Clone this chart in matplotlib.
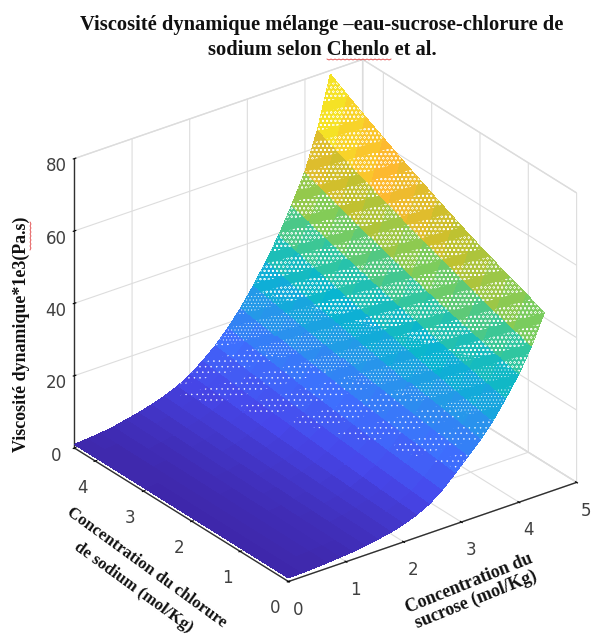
#!/usr/bin/env python3
"""Viscosite dynamique eau-sucrose-NaCl, surface 3D (Chenlo et al.)"""
import numpy as np
import matplotlib
matplotlib.use("Agg")
import matplotlib.pyplot as plt
from matplotlib.colors import LinearSegmentedColormap
from matplotlib.lines import Line2D
from mpl_toolkits.mplot3d.art3d import Poly3DCollection

plt.rcParams["hatch.color"] = "white"
plt.rcParams["hatch.linewidth"] = 0.3

# sucrose (mol/Kg), chlorure de sodium (mol/Kg)
sucrose = [0.0, 0.22, 0.44, 0.67, 0.89, 1.11, 1.33, 1.55, 1.78, 2.0, 2.22,
           2.44, 2.66, 2.89, 3.11, 3.33, 3.55, 3.77, 4.0, 4.22, 4.44]
sodium = [0.0, 0.37, 0.74, 1.11, 1.48, 1.85, 2.22, 2.59, 2.96, 3.33, 3.70, 4.07, 4.43]

# viscosite : une ligne par valeur de sucrose
viscosity = [
    [1.0, 1.0, 1.0, 1.0, 1.0, 1.0, 1.0, 1.0, 1.0, 1.0, 1.0, 1.0, 1.0],
    [1.1, 1.12, 1.13, 1.15, 1.17, 1.18, 1.2, 1.22, 1.23, 1.25, 1.27, 1.28, 1.3],
    [1.3, 1.32, 1.35, 1.37, 1.4, 1.42, 1.44, 1.47, 1.49, 1.52, 1.55, 1.57, 1.6],
    [1.5, 1.54, 1.59, 1.63, 1.68, 1.72, 1.77, 1.82, 1.87, 1.92, 1.98, 2.04, 2.1],
    [1.8, 1.87, 1.95, 2.03, 2.12, 2.2, 2.29, 2.38, 2.47, 2.57, 2.68, 2.79, 2.9],
    [2.1, 2.2, 2.3, 2.4, 2.5, 2.62, 2.75, 2.87, 3.0, 3.15, 3.3, 3.45, 3.6],
    [2.6, 2.73, 2.86, 3.0, 3.15, 3.3, 3.46, 3.63, 3.8, 4.0, 4.2, 4.4, 4.6],
    [3.2, 3.35, 3.5, 3.7, 3.9, 4.1, 4.3, 4.5, 4.7, 4.95, 5.2, 5.45, 5.7],
    [3.9, 4.1, 4.3, 4.55, 4.8, 5.05, 5.3, 5.6, 5.9, 6.2, 6.5, 6.85, 7.2],
    [4.9, 5.15, 5.4, 5.7, 6.0, 6.35, 6.7, 7.05, 7.4, 7.85, 8.3, 8.75, 9.2],
    [6.2, 6.55, 6.9, 7.3, 7.7, 8.15, 8.6, 9.05, 9.5, 10.05, 10.6, 11.2, 11.8],
    [8.0, 8.45, 8.9, 9.4, 9.9, 10.4, 10.9, 11.5, 12.1, 12.75, 13.4, 14.1, 14.8],
    [10.6, 11.1, 11.6, 12.15, 12.7, 13.35, 14.0, 14.65, 15.3, 16.1, 16.9, 17.7, 18.5],
    [14.0, 14.6, 15.2, 15.85, 16.5, 17.2, 17.9, 18.7, 19.5, 20.35, 21.2, 22.1, 23.0],
    [17.5, 18.2, 18.9, 19.65, 20.4, 21.25, 22.1, 23.05, 24.0, 24.95, 25.9, 26.95, 28.0],
    [21.0, 21.85, 22.7, 23.6, 24.5, 25.5, 26.5, 27.6, 28.7, 29.85, 31.0, 32.25, 33.5],
    [25.0, 26.0, 27.0, 28.1, 29.2, 30.3, 31.4, 32.7, 34.0, 35.35, 36.7, 38.1, 39.5],
    [30.0, 31.15, 32.3, 33.55, 34.8, 36.1, 37.4, 38.85, 40.3, 41.8, 43.3, 44.9, 46.5],
    [35.5, 36.85, 38.2, 39.6, 41.0, 42.5, 44.0, 45.65, 47.3, 49.05, 50.8, 52.65, 54.5],
    [42.0, 43.6, 45.2, 46.95, 48.7, 50.6, 52.5, 54.5, 56.5, 58.55, 60.6, 62.8, 65.0],
    [50.0, 51.95, 53.9, 56.0, 58.1, 60.45, 62.8, 65.3, 67.8, 70.5, 73.2, 76.1, 79.0],
]

x_ticks = [0, 1, 2, 3, 4, 5]
y_ticks = [0, 1, 2, 3, 4]
z_ticks = [0, 20, 40, 60, 80]

parula = LinearSegmentedColormap.from_list("parula", [
    "#3e26a8", "#4747eb", "#3e6ffe", "#2796eb", "#08b5d0",
    "#31c69f", "#80cc59", "#c8c02b", "#fdb92f", "#f5e325", "#f9fb15"])

SERIF = "Liberation Serif"
INK = "#111111"
MOIRE_PERIOD = 27    # ecart des bandes pleines, en pixels
MOIRE_SOLID = 10


def clip_poly(poly, key, lim, sign):
    out = []
    for a, b in zip(poly, poly[1:] + poly[:1]):
        fa, fb = sign * (key(a) - lim), sign * (key(b) - lim)
        if fa >= 0:
            out.append(a)
        if fa * fb < 0:
            out.append(a + fa / (fa - fb) * (b - a))
    return out


def moire(p):
    # hauteur a l'ecran le long de bandes montant vers la droite
    return 4.3 * p[0] + 43.3 * p[1] + 3.6 * p[2]


def moire_start(p):
    return p[2] + 2.0 * p[1]


def dotted_facets(X, Y, Z, lo, hi):
    polys = []
    for i in range(Z.shape[0] - 1):
        for j in range(Z.shape[1] - 1):
            c = [np.array(v) for v in ((X[i, j], Y[i, j], Z[i, j]),
                                       (X[i + 1, j], Y[i + 1, j], Z[i + 1, j]),
                                       (X[i + 1, j + 1], Y[i + 1, j + 1], Z[i + 1, j + 1]),
                                       (X[i, j + 1], Y[i, j + 1], Z[i, j + 1]))]
            for tri in ([c[0], c[1], c[2]], [c[0], c[2], c[3]]):
                tri = clip_poly(tri, moire_start, lo, 1)
                if len(tri) >= 3:
                    tri = clip_poly(tri, moire_start, hi, -1)
                if len(tri) < 3:
                    continue
                for k in range(0, 20):
                    lo_w = k * MOIRE_PERIOD + MOIRE_SOLID
                    hi_w = (k + 1) * MOIRE_PERIOD
                    piece = clip_poly(tri, moire, lo_w, 1)
                    if len(piece) >= 3:
                        piece = clip_poly(piece, moire, hi_w, -1)
                    if len(piece) >= 3:
                        polys.append([tuple(v) for v in piece])
    return polys


fig = plt.figure(figsize=(5.93, 6.35), dpi=100)
ax = fig.add_axes([24.6 / 593, 13.6 / 635, 586 / 593, 586 / 635],
                  projection="3d", proj_type="ortho", computed_zorder=False)
ax.view_init(elev=27.6, azim=-126.6)
ax.set_box_aspect((1, 1, 0.91))
ax.patch.set_alpha(0)

X, Y = np.meshgrid(sucrose, sodium, indexing="ij")
Z = np.array(viscosity)

ax.plot_surface(X, Y, Z, cmap=parula, vmin=0.5, vmax=79, rstride=1, cstride=1,
                linewidth=0, antialiased=False, shade=False, zorder=2)

# mouchetures blanches du maillage : clairsemees puis denses
for lo, hi, hatch in ((15, 25, "..."), (25, 36, "....."), (36, 200, "oooo")):
    dots = Poly3DCollection(dotted_facets(X, Y, Z, lo, hi), facecolor=(1, 1, 1, 0),
                            edgecolor="white", linewidth=0, hatch=hatch, zorder=3)
    ax.add_collection3d(dots)

ax.set_xlim(0, 5, view_margin=0)
ax.set_ylim(0, 4.43, view_margin=0)
ax.set_zlim(0, 80, view_margin=0)
ax.set_xticks(x_ticks)
ax.set_yticks(y_ticks)
ax.set_zticks(z_ticks)

for axis in (ax.xaxis, ax.yaxis, ax.zaxis):
    axis.set_pane_color((1, 1, 1, 1))
    axis.pane.set_edgecolor("#dcdcdc")
    axis.line.set_color("#303030")
    axis.line.set_linewidth(1.0)
    axis._axinfo["grid"]["color"] = "#dddddd"
    axis._axinfo["grid"]["linewidth"] = 0.8
    axis._axinfo["tick"]["color"] = "#303030"
    axis._axinfo["tick"]["inward_factor"] = 0.05
    axis._axinfo["tick"]["outward_factor"] = 0.06
ax.tick_params(labelsize=12, labelcolor="#404040")
ax.tick_params(axis="x", pad=2)
ax.tick_params(axis="y", pad=2)
ax.tick_params(axis="z", pad=0)

fig.text(322 / 593, 1 - 25 / 635, "Viscosité dynamique mélange –eau-sucrose-chlorure de",
         family=SERIF, weight="bold", size=14.8, ha="center", va="center", color=INK)
fig.text(322 / 593, 1 - 50 / 635, "sodium selon Chenlo et al.",
         family=SERIF, weight="bold", size=14.8, ha="center", va="center", color=INK)
fig.text(21 / 593, 1 - 334 / 635, "Viscosité dynamique*1e3(Pa.s)", rotation=90,
         family=SERIF, weight="bold", size=12.9, ha="center", va="center", color=INK)
fig.text(469 / 593, 1 - 583 / 635, "Concentration du", rotation=22, rotation_mode="anchor",
         family=SERIF, weight="bold", size=13, ha="center", va="center", color=INK)
fig.text(476 / 593, 1 - 600 / 635, "sucrose (mol/Kg)", rotation=22, rotation_mode="anchor",
         family=SERIF, weight="bold", size=13, ha="center", va="center", color=INK)
fig.text(147 / 593, 1 - 568 / 635, "Concentration du chlorure", rotation=-36, rotation_mode="anchor",
         family=SERIF, weight="bold", size=12.2, ha="center", va="center", color=INK)
fig.text(133 / 593, 1 - 587 / 635, "de sodium (mol/Kg)", rotation=-36, rotation_mode="anchor",
         family=SERIF, weight="bold", size=12.2, ha="center", va="center", color=INK)

# soulignement du correcteur orthographique
wx = np.arange(327, 392, 2)
wy = 59 + np.resize([0, 1], wx.size)
fig.add_artist(Line2D(wx / 593, 1 - wy / 635, color="#e04040", lw=0.6))
wy2 = np.arange(222, 252, 2)
wx2 = 30 + np.resize([0, 1], wy2.size)
fig.add_artist(Line2D(wx2 / 593, 1 - wy2 / 635, color="#e04040", lw=0.6))

fig.savefig("out.png", dpi=100)
